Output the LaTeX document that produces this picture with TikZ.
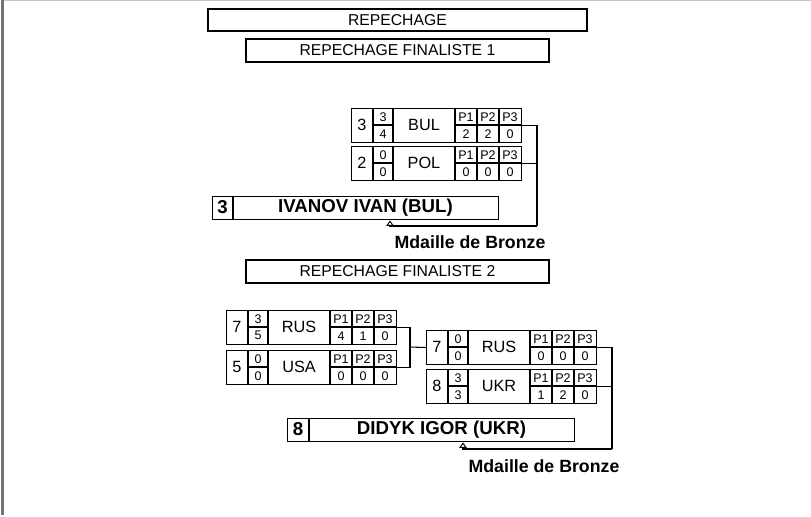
\documentclass[tikz,border=0pt]{standalone}
\usepackage{fontspec}
\setmainfont{Liberation Sans}
\usetikzlibrary{arrows.meta}
\newcommand\fTitle{\fontsize{11.8}{13}\selectfont}
\newcommand\fMid{\fontsize{12.2}{13}\selectfont}
\newcommand\fSmall{\fontsize{9.4}{10}\selectfont}
\newcommand\fBig{\fontsize{14}{15}\selectfont\bfseries}
\tikzset{
  cell/.style={inner sep=0pt, anchor=center},
  boxline/.style={draw=black, line width=0.8pt},
  titlebox/.style={draw=black, line width=1.4pt, inner sep=0pt, anchor=north west},
  wire/.style={draw=black, line width=0.8pt},
  arrowwire/.style={wire, -{Triangle[open, width=5.5pt, length=4pt, line width=0.7pt]}},
}
\newcommand\pblock[9]{%
  \begin{scope}[shift={(#2)}]
    \node[boxline, inner sep=0pt, minimum width=127.5pt, minimum height=25.5pt, anchor=north west] (#1) at (0,0) {};
    \draw[boxline] (22,0)--(22,34) (42,0)--(42,34) (104,0)--(104,34) (126,0)--(126,34) (148,0)--(148,34)
      (22,17)--(42,17) (104,17)--(170,17);
    \node[cell] (#1-seed) at (11,17) {\fMid #3};
    \node[cell] (#1-sa) at (32,8.7) {\fSmall #4};
    \node[cell] (#1-sb) at (32,25.7) {\fSmall #5};
    \node[cell] (#1-nat) at (73,17) {\fMid #6};
    \node[cell] (#1-p1) at (115,8.7) {\fSmall P1};
    \node[cell] (#1-p2) at (137,8.7) {\fSmall P2};
    \node[cell] (#1-p3) at (159,8.7) {\fSmall P3};
    \node[cell] (#1-v1) at (115,25.7) {\fSmall #7};
    \node[cell] (#1-v2) at (137,25.7) {\fSmall #8};
    \node[cell] (#1-v3) at (159,25.7) {\fSmall #9};
  \end{scope}}
\newcommand\winbox[7]{%
  \begin{scope}[shift={(#2,#3)}]
    \node[draw=black, line width=1.1pt, inner sep=0pt, minimum width=#4*0.75pt, minimum height=17.25pt, anchor=north west] (#1) at (0,0) {};
    \draw[line width=1.1pt] (#5,0)--(#5,23);
    \node[cell] (#1-seed) at (#5/2,11.5) {\fBig #6};
    \node[cell] (#1-name) at ({(#5+#4)/2},11.5) {\fBig #7};
  \end{scope}}
\begin{document}
\begin{tikzpicture}[x=0.75pt, y=-0.75pt]
\useasboundingbox (0,0) rectangle (811,517);
\fill[white] (0,0) rectangle (811,517);
\draw[draw=black!22, line width=1.2pt] (2,0.6) -- (811,0.6);
\draw[draw=black!55, line width=1.6pt] (2.5,0) -- (2.5,515);
\node[titlebox, minimum width=284.25pt, minimum height=16.5pt] (t0) at (207,8) {};
\node (t0-text) at (t0.center) {\fTitle REPECHAGE};
\node[titlebox, minimum width=227.25pt, minimum height=17.25pt] (t1) at (245,38) {};
\node (t1-text) at (t1.center) {\fTitle REPECHAGE FINALISTE 1};
\node[titlebox, minimum width=227.25pt, minimum height=17.25pt] (t2) at (245,259) {};
\node (t2-text) at (t2.center) {\fTitle REPECHAGE FINALISTE 2};
\pblock{bul}{351,108}{3}{3}{4}{BUL}{2}{2}{0}
\pblock{pol}{351,146}{2}{0}{0}{POL}{0}{0}{0}
\winbox{iv}{212}{196}{286}{21}{3}{IVANOV IVAN (BUL)}
\coordinate (j1) at (537,226);
\coordinate (a1) at (390,226);
\draw[wire] (bul.east) -| (j1);
\draw[wire] (pol.east) -- (pol.east -| j1);
\draw[arrowwire] (j1) -- (a1) -- (a1 |- iv.south);
\node[cell] (m1) at (470,242) {\fontsize{13.3}{15}\selectfont\bfseries Mdaille de Bronze};
\pblock{rusl}{226,310}{7}{3}{5}{RUS}{4}{1}{0}
\pblock{usa}{226,350}{5}{0}{0}{USA}{0}{0}{0}
\pblock{rusr}{426,330}{7}{0}{0}{RUS}{0}{0}{0}
\pblock{ukr}{426,369}{8}{3}{3}{UKR}{1}{2}{0}
\coordinate (j2) at (410,347);
\draw[wire] (rusl.east) -| (j2);
\draw[wire] (usa.east) -| (j2);
\draw[wire] (j2) -- (rusr.west);
\winbox{di}{287}{418}{287}{22}{8}{DIDYK IGOR (UKR)}
\coordinate (j3) at (612,449);
\coordinate (a2) at (463,449);
\draw[wire] (rusr.east) -| (j3);
\draw[wire] (ukr.east) -- (ukr.east -| j3);
\draw[arrowwire] (j3) -- (a2) -- (a2 |- di.south);
\node[cell] (m2) at (544,466) {\fontsize{13.3}{15}\selectfont\bfseries Mdaille de Bronze};
\end{tikzpicture}
\end{document}
